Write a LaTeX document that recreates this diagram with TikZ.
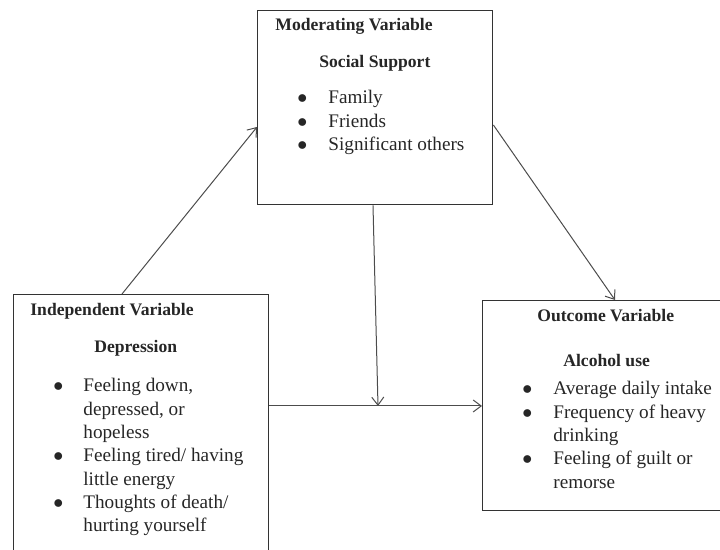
\documentclass[tikz,border=0pt]{standalone}
\usepackage{fontspec}
\setmainfont{Liberation Serif}
\usetikzlibrary{calc,arrows.meta}

\newcommand{\itemdot}{$\bullet$}

\begin{document}
\begin{tikzpicture}[x=0.5pt, y=-0.5pt,
    box/.style={draw=black!80, line width=0.7pt, rectangle, anchor=north west, inner sep=0pt},
    head/.style={anchor=base west, inner sep=0pt, text=black!85, font=\fontsize{8.8}{10}\selectfont\bfseries},
    items/.style={anchor=base west, inner sep=0pt, text=black!85, font=\fontsize{9.6}{11.65}\selectfont},
    link/.style={draw=black!70, line width=0.5pt, -{Straight Barb[length=4pt,width=6pt]}}]
        \useasboundingbox (0,0) rectangle (720,550);
        \clip (0,0) rectangle (720,550);

        \node[box, minimum width=117.5pt, minimum height=97pt] (mod) at (257,10) {};
        \node[box, minimum width=127.5pt, minimum height=140pt] (indep) at (13,294) {};
        \node[box, minimum width=125pt, minimum height=105pt] (outc) at (482,300) {};

        \node[head] (modhead) at (275,31) {Moderating Variable};
        \node[head] (modsub) at (319,68) {Social Support};
        \node[items] (modlist) at (297,104) {\begin{tabular}[t]{@{}p{15.5pt}@{}l@{}}
            \itemdot & Family\\
            \itemdot & Friends\\
            \itemdot & Significant others
          \end{tabular}};

        \node[head] (indephead) at (30,316) {Independent Variable};
        \node[head] (indepsub) at (94,353) {Depression};
        \node[items] (indeplist) at (53,392) {\begin{tabular}[t]{@{}p{15pt}@{}l@{}}
            \itemdot & Feeling down,\\
                     & depressed, or\\
                     & hopeless\\
            \itemdot & Feeling tired/ having\\
                     & little energy\\
            \itemdot & Thoughts of death/\\
                     & hurting yourself
          \end{tabular}};

        \node[head] (outchead) at (537,322) {Outcome Variable};
        \node[head] (outcsub) at (563,367) {Alcohol use};
        \node[items] (outclist) at (522,395) {\begin{tabular}[t]{@{}p{15.5pt}@{}l@{}}
            \itemdot & Average daily intake\\
            \itemdot & Frequency of heavy\\
                     & drinking\\
            \itemdot & Feeling of guilt or\\
                     & remorse
          \end{tabular}};

        \coordinate (meet) at (378,406);

        \draw[link] ($(indep.north west)+(109,0)$) -- ($(mod.north west)+(0,117)$);
        \draw[link] ($(mod.north east)+(0,115)$) -- ($(outc.north west)+(133,0)$);
        \draw[link] ($(mod.south west)+(116,0)$) -- (meet);
        \draw[link] ($(indep.north east)+(0,112)$) -- ($(outc.north west)+(0,106)$);
      \end{tikzpicture}
\end{document}
